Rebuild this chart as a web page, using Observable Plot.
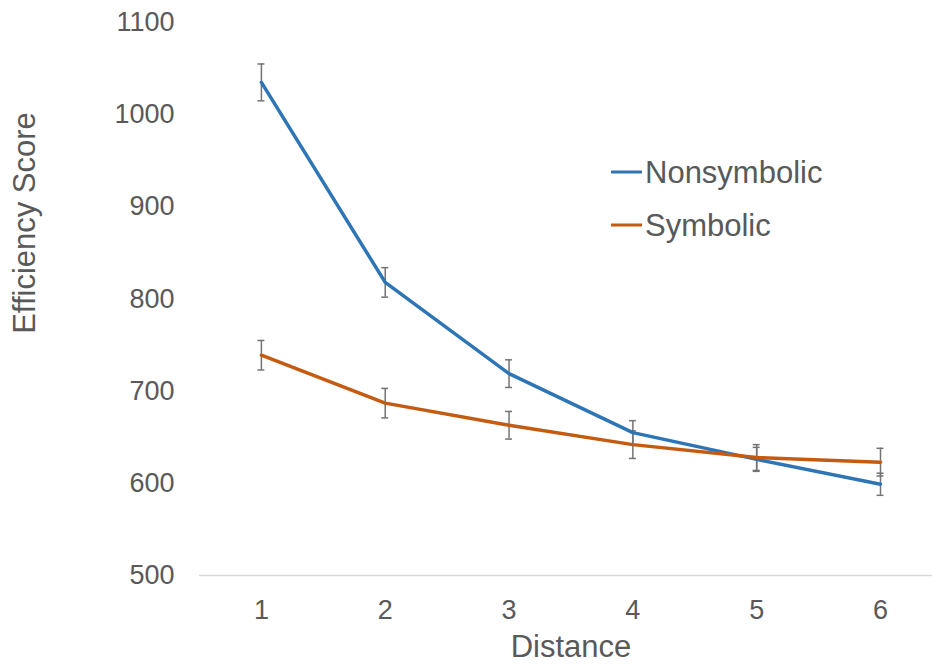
<!DOCTYPE html>
<html>
<head>
<meta charset="utf-8">
<script src="https://cdn.jsdelivr.net/npm/d3@7"></script>
<script src="https://cdn.jsdelivr.net/npm/@observablehq/plot@0.6"></script>
<style>
  html, body { margin: 0; padding: 0; background: #fff; }
  #wrap { position: relative; width: 932px; height: 664px; font-family: "Liberation Sans", Arial, sans-serif; color: #595959; }
  .lbl { position: absolute; font-size: 31px; white-space: nowrap; line-height: 1; }
  .leg { position: absolute; display: flex; align-items: center; font-size: 31px; white-space: nowrap; line-height: 1; }
  .leg span.sw { display: inline-block; width: 31px; height: 3px; margin-right: 3px; }
</style>
</head>
<body>
<div id="wrap"></div>
<script>
const distance = [1, 2, 3, 4, 5, 6];
const nonsymbolic = [1035, 818, 719, 655, 626, 599];
const nonsymbolicErr = [20, 16, 15, 13, 13, 12];
const symbolic = [739, 687, 663, 642, 628, 623];
const symbolicErr = [16, 16, 15, 15, 14, 15];
const yTicks = [500, 600, 700, 800, 900, 1000, 1100];

const series = [
  {name: "Nonsymbolic", values: nonsymbolic, err: nonsymbolicErr, color: "#2E75B6"},
  {name: "Symbolic", values: symbolic, err: symbolicErr, color: "#C55A11"}
];
const rows = series.flatMap(s => distance.map((d, i) => ({
  series: s.name, x: d, y: s.values[i], lo: s.values[i] - s.err[i], hi: s.values[i] + s.err[i], color: s.color
})));
const capHalf = 0.028;

const plot = Plot.plot({
  width: 932,
  height: 664,
  marginLeft: 199,
  marginRight: 0,
  marginTop: 22,
  marginBottom: 89,
  style: {fontFamily: "Liberation Sans, Arial, sans-serif", fontSize: "27px", color: "#595959", background: "#fff", overflow: "visible"},
  x: {domain: [0.5, 6.42], ticks: distance, tickFormat: d3.format("d"), tickSize: 0, tickPadding: 24, label: null},
  y: {domain: [500, 1100], ticks: yTicks, tickFormat: d3.format("d"), tickSize: 0, tickPadding: 25, label: null},
  marks: [
    Plot.ruleY([500], {stroke: "#d9d9d9", strokeWidth: 1.5}),
    Plot.ruleX(rows, {x: "x", y1: "lo", y2: "hi", stroke: "#737373", strokeWidth: 1.5}),
    Plot.ruleY(rows, {y: "hi", x1: d => d.x - capHalf, x2: d => d.x + capHalf, stroke: "#737373", strokeWidth: 1.5}),
    Plot.ruleY(rows, {y: "lo", x1: d => d.x - capHalf, x2: d => d.x + capHalf, stroke: "#737373", strokeWidth: 1.5}),
    Plot.line(rows, {x: "x", y: "y", z: "series", stroke: "color", strokeWidth: 3.5, strokeLinejoin: "round", strokeLinecap: "round"})
  ]
});

const wrap = document.getElementById("wrap");
wrap.appendChild(plot);

// Axis titles
const yl = document.createElement("div");
yl.className = "lbl";
yl.textContent = "Efficiency Score";
yl.style.left = "24px";
yl.style.top = "223px";
yl.style.transform = "translate(-50%, -50%) rotate(-90deg)";
wrap.appendChild(yl);

const xl = document.createElement("div");
xl.className = "lbl";
xl.textContent = "Distance";
xl.style.left = "571px";
xl.style.top = "646px";
xl.style.transform = "translate(-50%, -50%)";
wrap.appendChild(xl);

// Legend
const legTops = [172, 225];
series.forEach((s, i) => {
  const g = document.createElement("div");
  g.className = "leg";
  g.style.left = "611px";
  g.style.top = legTops[i] + "px";
  g.style.transform = "translateY(-50%)";
  const sw = document.createElement("span");
  sw.className = "sw";
  sw.style.background = s.color;
  const t = document.createElement("span");
  t.textContent = s.name;
  g.appendChild(sw);
  g.appendChild(t);
  wrap.appendChild(g);
});
</script>
</body>
</html>
